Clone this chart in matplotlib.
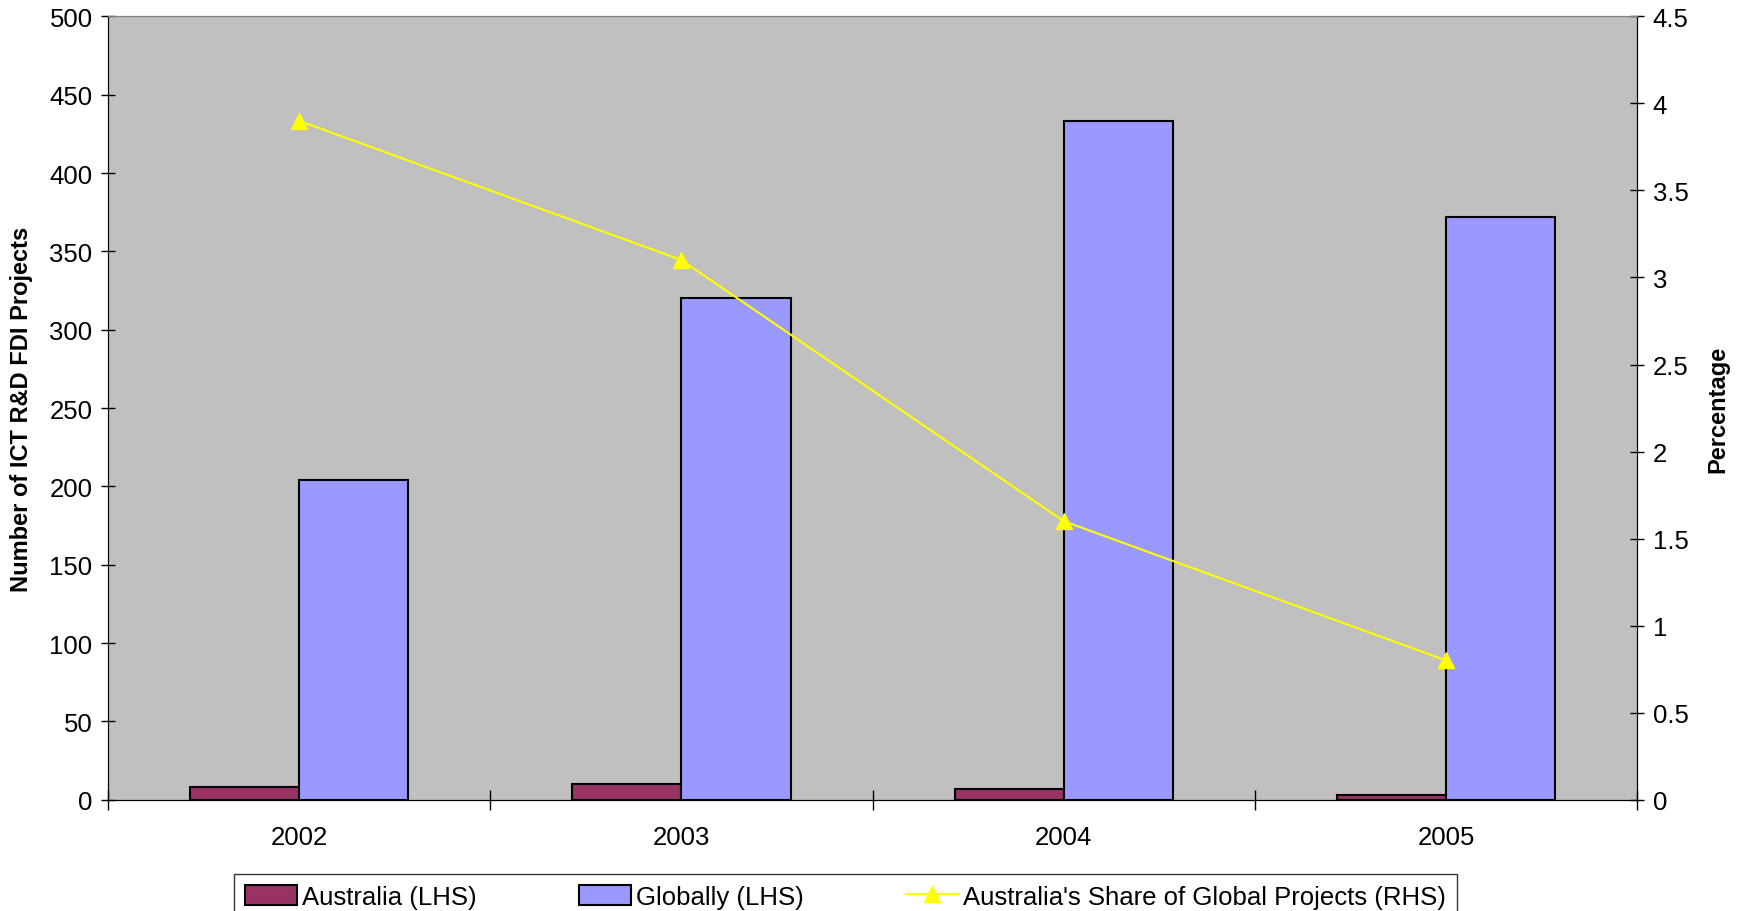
import numpy as np
import matplotlib
matplotlib.use("Agg")
from matplotlib import pyplot as plt
from matplotlib.ticker import FuncFormatter, MultipleLocator

plt.rcParams['font.family'] = ['Liberation Sans', 'DejaVu Sans']

years = ['2002', '2003', '2004', '2005']
australia = [8, 10, 7, 3]
globally = [204, 320, 433, 372]
share = [3.9, 3.1, 1.6, 0.8]

fig = plt.figure(figsize=(17.4, 9.12), dpi=100)
ax = fig.add_axes([0.062, 0.122, 0.879, 0.859])
ax.set_facecolor('#C0C0C0')

x = np.arange(len(years))
w = 1 / 3.5
ax.bar(x - w / 2, australia, w, color='#993366', edgecolor='black', linewidth=1.5,
       label='Australia (LHS)', zorder=2)
ax.bar(x + w / 2, globally, w, color='#9999FF', edgecolor='black', linewidth=1.5,
       label='Globally (LHS)', zorder=2)

ax.set_xlim(-0.5, len(years) - 0.5)
ax.set_ylim(0, 500)
ax.yaxis.set_major_locator(MultipleLocator(50))
ax.set_xticks(np.arange(-0.5, len(years), 1.0))
ax.set_xticklabels([])
ax.set_xticks(x, minor=True)
ax.set_xticklabels(years, minor=True)
ax.tick_params(axis='x', which='major', direction='inout', length=14, width=1)
ax.tick_params(axis='x', which='minor', length=0, pad=18, labelsize=18.5)
ax.tick_params(axis='y', direction='inout', length=10, width=1, labelsize=18.5, pad=6)
ax.set_ylabel('Number of ICT R&D FDI Projects', fontsize=17, fontweight='bold', labelpad=12)
for s in ['left', 'right', 'bottom']:
    ax.spines[s].set_color('black')
ax.spines['top'].set_color('#808080')

ax2 = ax.twinx()
ax2.plot(x, share, color='#FFFF00', linewidth=1.5, marker='^', markersize=11,
         markerfacecolor='#FFFF00', markeredgecolor='#FFFF00',
         label="Australia's Share of Global Projects (RHS)", zorder=3)
ax2.set_ylim(0, 4.5)
ax2.yaxis.set_major_locator(MultipleLocator(0.5))
ax2.yaxis.set_major_formatter(FuncFormatter(lambda v, p: '%g' % v))
ax2.tick_params(axis='y', direction='inout', length=10, width=1, labelsize=18.5, pad=6)
ax2.set_ylabel('Percentage', fontsize=17, fontweight='bold', labelpad=13)
ax2.spines['top'].set_color('#808080')

h1, l1 = ax.get_legend_handles_labels()
h2, l2 = ax2.get_legend_handles_labels()
leg = fig.legend(h1 + h2, l1 + l2, loc='upper center', bbox_to_anchor=(0.486, 0.041),
                 ncol=3, fontsize=18.5, frameon=True, fancybox=False, edgecolor='black',
                 borderpad=0.3, borderaxespad=0, columnspacing=4.0, handlelength=2.0,
                 handleheight=0.8, handletextpad=0.2)
leg.get_frame().set_linewidth(1)
leg._legend_box.sep = 5
leg._legend_box.pad = 8

fig.savefig('out.png', dpi=100)
